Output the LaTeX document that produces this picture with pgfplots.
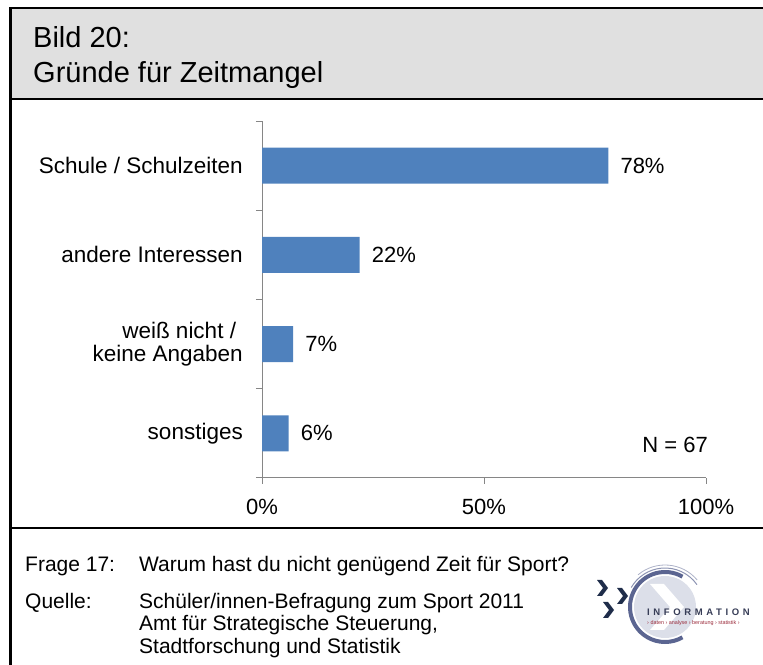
\documentclass[border=0pt]{standalone}
\usepackage{pgfplots}
\pgfplotsset{compat=1.18}
\usepackage{fontspec}
\setmainfont{Liberation Sans}
\definecolor{barblue}{HTML}{4F81BD}
\definecolor{axgray}{HTML}{868686}
\definecolor{hdrgray}{HTML}{E0E0E0}
\definecolor{logonavy}{HTML}{1F2D4A}
\definecolor{logoring}{HTML}{5B6591}
\definecolor{logofill}{HTML}{DCDFE9}
\definecolor{logored}{HTML}{9A2A3A}
\newcommand\fs[2]{\fontsize{#1}{#2}\selectfont}
\begin{document}
\begin{tikzpicture}[x=1pt,y=1pt]
\useasboundingbox (0,0) rectangle (763,664);
\clip (0,0) rectangle (763,664);
% frame and header
\fill[hdrgray] (10.5,656) rectangle (780,565);
\draw[line width=2.7pt] (10.5,-10) -- (10.5,656) -- (780,656);
\draw[line width=2.7pt] (10.5,565) -- (780,565);
\draw[line width=2.7pt] (10.5,136) -- (780,136);
\node[anchor=base west, inner sep=0pt, font=\fs{29}{32}] at (33,616) {Bild 20:};
\node[anchor=base west, inner sep=0pt, font=\fs{29}{32}] at (33,581) {Gründe für Zeitmangel};
% footer
\node[anchor=base west, inner sep=0pt, font=\fs{21}{23}] at (25,92) {Frage 17:};
\node[anchor=base west, inner sep=0pt, font=\fs{21}{23}] at (139,92) {Warum hast du nicht genügend Zeit für Sport?};
\node[anchor=base west, inner sep=0pt, font=\fs{21}{23}] at (25,56) {Quelle:};
\node[anchor=base west, inner sep=0pt, font=\fs{21}{23}] at (139,56) {Schüler/innen-Befragung zum Sport 2011};
\node[anchor=base west, inner sep=0pt, font=\fs{21}{23}] at (139,33) {Amt für Strategische Steuerung,};
\node[anchor=base west, inner sep=0pt, font=\fs{21}{23}] at (139,10) {Stadtforschung und Statistik};
% logo
\fill[logofill] (665,57) circle (31);
\fill[white] (650,80) -- (664,80) -- (684,57) -- (664,34) -- (650,34) -- (670,57) -- cycle;
\draw[logoring, line width=4pt] (665,57) ++(60:35) arc (60:300:35);
\draw[logoring!70, line width=1pt] (665,57) ++(35:39) arc (35:150:39);
\draw[logoring!50, line width=0.8pt] (665,57) ++(40:42) arc (40:130:42);
\foreach \cx/\cy in {597/84, 617/76, 603/62}{
  \fill[logonavy] (\cx,\cy) -- ++(5,0) -- ++(6,-8) -- ++(-6,-8) -- ++(-5,0) -- ++(6,8) -- cycle;
}
\node[anchor=base west, inner sep=0pt, text=logoring!60!black, font=\fs{9.5}{9}\bfseries\addfontfeatures{LetterSpace=38}] at (647,48) {INFORMATION};
\node[anchor=base west, inner sep=0pt, text=logored, font=\fs{5.4}{6}] at (647,39) {› daten › analyse › beratung › statistik ›};
% N
\node[anchor=base east, inner sep=0pt, font=\fs{22}{23}] at (708,211) {N = 67};
\begin{axis}[
  at={(262pt,186pt)}, anchor=south west,
  scale only axis, width=444pt, height=357pt,
  xmin=0, xmax=100, ymin=-0.5, ymax=3.5,
  xbar, bar width=36pt,
  axis x line=bottom, axis y line=left,
  axis line style={-, draw=axgray, line width=1pt},
  tick style={draw=axgray, line width=1pt},
  tick align=outside, major tick length=6pt,
  /pgf/number format/assume math mode=true,
  xtick={0,50,100}, xticklabels={0\%,50\%,100\%},
  xticklabel style={font=\fs{22}{23}, anchor=base, inner sep=0pt, yshift=-31pt},
  ytick={-0.5,0.5,1.5,2.5,3.5}, yticklabels={,,,,},
  extra y ticks={0,1,2,3},
  extra y tick labels={sonstiges,{weiß nicht /\hspace*{0.3em}\\keine Angaben},andere Interessen,Schule / Schulzeiten},
  extra y tick style={major tick length=0pt, tick label style={font=\fs{22.5}{23}, align=right, anchor=east, inner sep=0pt, xshift=-19pt}},
  nodes near coords={\pgfmathprintnumber[assume math mode=true]{\pgfplotspointmeta}\%},
  point meta=x,
  every node near coord/.append style={font=\fs{22}{23}, anchor=west, inner sep=0pt, xshift=12pt, text=black},
  clip=false,
]
\addplot[fill=barblue, draw=none] coordinates {(6,0) (7,1) (22,2) (78,3)};
\end{axis}
\end{tikzpicture}
\end{document}
